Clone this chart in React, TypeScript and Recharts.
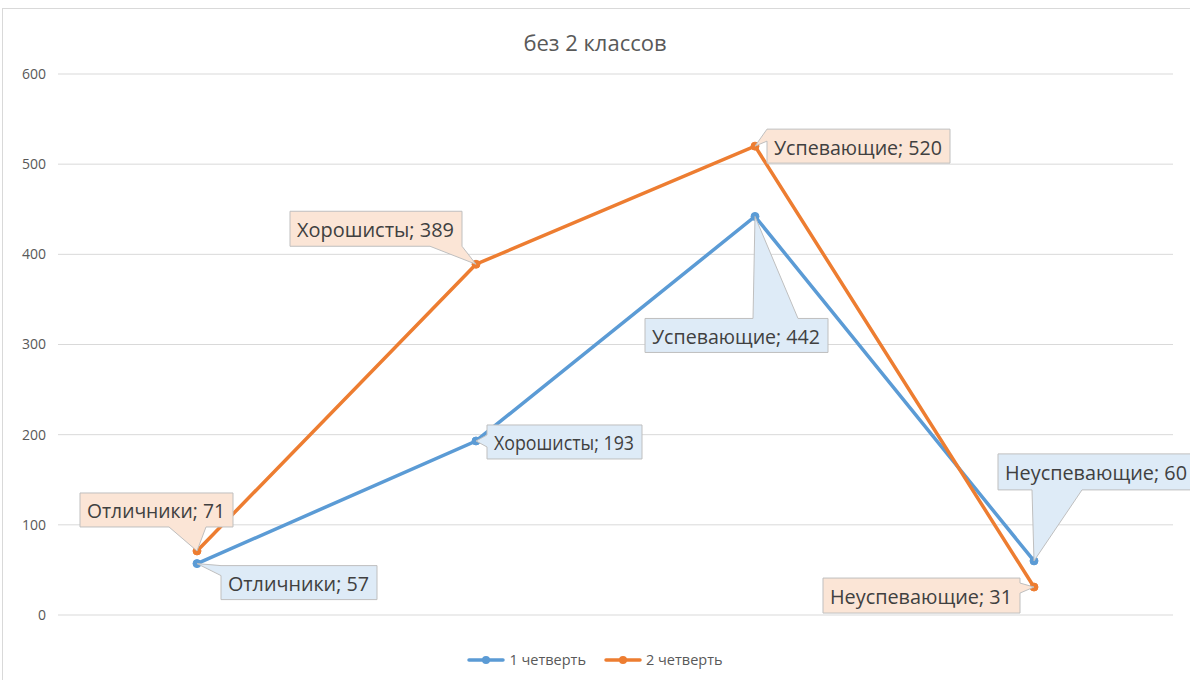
import React from 'react';
import { LineChart, Line, XAxis, YAxis, CartesianGrid, Legend, LabelList } from 'recharts';

const categories = ['Отличники', 'Хорошисты', 'Успевающие', 'Неуспевающие'];
const quarter1 = [57, 193, 442, 60];
const quarter2 = [71, 389, 520, 31];
const seriesNames = ['1 четверть', '2 четверть'];
const yTicks = [0, 100, 200, 300, 400, 500, 600];
const chartTitle = 'без 2 классов';

const data = categories.map((c, i) => ({ name: c, q1: quarter1[i], q2: quarter2[i] }));

type Side = 'top' | 'bottom' | 'left' | 'right';
type Callout = { dx: number; dy: number; w: number; h: number; side: Side; a: number; b: number };

const callouts1: Callout[] = [
  { dx: 24, dy: 2, w: 156, h: 34, side: 'left', a: 0, b: 10 },
  { dx: 11, dy: -16, w: 155, h: 34, side: 'left', a: 10, b: 22 },
  { dx: -110, dy: 102, w: 183, h: 34, side: 'top', a: 108, b: 153 },
  { dx: -36, dy: -107, w: 197, h: 36, side: 'bottom', a: 34, b: 84 },
];
const callouts2: Callout[] = [
  { dx: -117, dy: -58, w: 153, h: 34, side: 'bottom', a: 89, b: 126 },
  { dx: -186, dy: -53, w: 172, h: 35, side: 'bottom', a: 140, b: 172 },
  { dx: 12, dy: -17, w: 183, h: 34, side: 'left', a: 0, b: 12 },
  { dx: -211, dy: -9, w: 197, h: 35, side: 'right', a: 5, b: 15 },
];

const BLUE = '#5B9BD5';
const ORANGE = '#ED7D31';
const FONT = '"Open Sans", "Noto Sans", sans-serif';

function calloutPath(bx: number, by: number, w: number, h: number, c: Callout, px: number, py: number) {
  const { side, a, b } = c;
  let d = `M${bx},${by}`;
  if (side === 'top') d += ` L${bx + a},${by} L${px},${py} L${bx + b},${by}`;
  d += ` L${bx + w},${by}`;
  if (side === 'right') d += ` L${bx + w},${by + a} L${px},${py} L${bx + w},${by + b}`;
  d += ` L${bx + w},${by + h}`;
  if (side === 'bottom') d += ` L${bx + b},${by + h} L${px},${py} L${bx + a},${by + h}`;
  d += ` L${bx},${by + h}`;
  if (side === 'left') d += ` L${bx},${by + b} L${px},${py} L${bx},${by + a}`;
  d += ' Z';
  return d;
}

const makeLabel = (callouts: Callout[], fill: string) => (props: any) => {
  const x = props.x ?? props.viewBox?.x;
  const y = props.y ?? props.viewBox?.y;
  const index = props.index as number;
  const value = props.value;
  const c = callouts[index];
  if (!c || x == null || y == null) return null;
  const bx = x + c.dx;
  const by = y + c.dy;
  return (
    <g>
      <path d={calloutPath(bx, by, c.w, c.h, c, x, y)} fill={fill} stroke="#BFBFBF" strokeWidth={1} />
      <text
        x={bx + 7}
        y={by + c.h / 2 + 1}
        dominantBaseline="central"
        fontFamily={FONT}
        fontSize={20}
        fill="#404040"
        textLength={c.w - 15}
        lengthAdjust="spacingAndGlyphs"
      >
        {`${categories[index]}; ${value}`}
      </text>
    </g>
  );
};

const renderLegend = (props: any) => {
  const payload = props.payload || [];
  return (
    <div style={{ display: 'flex', justifyContent: 'center', alignItems: 'center', gap: 18, fontFamily: FONT, fontSize: 14.5, color: '#595959' }}>
      {payload.map((p: any) => (
        <div key={p.value} style={{ display: 'flex', alignItems: 'center' }}>
          <svg width={38} height={12} style={{ marginRight: 4 }}>
            <line x1={2} y1={6} x2={36} y2={6} stroke={p.color} strokeWidth={3.5} strokeLinecap="round" />
            <circle cx={19} cy={6} r={4} fill={p.color} />
          </svg>
          <span>{p.value}</span>
        </div>
      ))}
    </div>
  );
};

export default function App() {
  return (
    <div style={{ position: 'absolute', left: 0, top: 0, width: 1190, height: 680, overflow: 'hidden', background: '#fff' }}>
      <div style={{ position: 'absolute', left: 2, top: 8, width: 1200, height: 700, border: '1px solid #D9D9D9', boxSizing: 'border-box' }} />
      <div style={{ position: 'absolute', left: 0, top: 27, width: 1190, textAlign: 'center', fontFamily: FONT, fontSize: 22, color: '#595959' }}>
        {chartTitle}
      </div>
      <div style={{ position: 'absolute', left: 0, top: 0 }}>
        <LineChart width={1190} height={680} data={data} margin={{ top: 74, right: 17, bottom: 65, left: 0 }}>
          <CartesianGrid vertical={false} stroke="#D9D9D9" strokeWidth={1} />
          <XAxis dataKey="name" hide padding={{ left: 139, right: 139 }} />
          <YAxis
            width={58}
            domain={[0, 600]}
            ticks={yTicks}
            axisLine={false}
            tickLine={false}
            tickMargin={6}
            tick={{ fontFamily: FONT, fontSize: 14, fill: '#595959' }}
          />
          <Legend
            verticalAlign="middle"
            align="center"
            layout="horizontal"
            content={renderLegend}
            wrapperStyle={{ position: 'absolute', top: 650, left: 0, width: 1190 }}
          />
          <Line
            type="linear"
            dataKey="q1"
            name={seriesNames[0]}
            stroke={BLUE}
            strokeWidth={3.5}
            dot={{ r: 4, fill: BLUE, stroke: BLUE, strokeWidth: 1 }}
            isAnimationActive={false}
          >
            <LabelList dataKey="q1" content={makeLabel(callouts1, '#DEEBF7')} />
          </Line>
          <Line
            type="linear"
            dataKey="q2"
            name={seriesNames[1]}
            stroke={ORANGE}
            strokeWidth={3.5}
            dot={{ r: 4, fill: ORANGE, stroke: ORANGE, strokeWidth: 1 }}
            isAnimationActive={false}
          >
            <LabelList dataKey="q2" content={makeLabel(callouts2, '#FBE5D6')} />
          </Line>
        </LineChart>
      </div>
    </div>
  );
}
